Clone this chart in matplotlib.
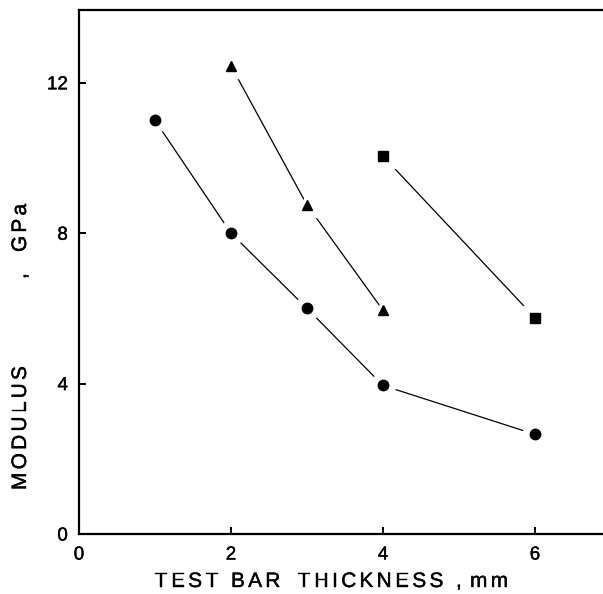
import matplotlib
matplotlib.use("Agg")
import matplotlib.pyplot as plt
import matplotlib.patheffects as pe

plt.rcParams['font.family'] = ['Liberation Sans', 'DejaVu Sans']

# Data
circ_x = [1, 2, 3, 4, 6]
circ_y = [11.0, 8.0, 6.0, 3.95, 2.65]
tri_x = [2, 3, 4]
tri_y = [12.45, 8.75, 5.95]
sq_x = [4, 6]
sq_y = [10.05, 5.75]

xticks = [0, 2, 4, 6]
yticks = [0, 4, 8, 12]

xlabel_words = ['TEST', 'BAR', 'THICKNESS', ',', 'mm']
ylabel_words = ['MODULUS', ',', 'GPa']

W, H = 603, 594
LABEL_FS = 15
TRACK = 3.2  # extra letter spacing in pixels
BOLDEN = [pe.withStroke(linewidth=0.3, foreground='black')]

fig = plt.figure(figsize=(W/100, H/100), dpi=100)
ax = fig.add_axes([79/W, 60/H, 1 - 79/W, (534-10)/H])

series = [(circ_x, circ_y, 'o', 7.5), (tri_x, tri_y, '^', 7.5), (sq_x, sq_y, 's', 6.8)]
for xs, ys, m, ms in series:
    ax.plot(xs, ys, '-', color='black', lw=0.9, zorder=1)
    ax.plot(xs, ys, ls='none', marker=m, ms=ms + 10, color='white', mec='white', zorder=2)
    ax.plot(xs, ys, ls='none', marker=m, ms=ms, color='black', mec='black', zorder=3)

ax.set_xlim(0, 524/76)
ax.set_ylim(0, 524/37.6)
ax.set_xticks(xticks)
ax.set_yticks(yticks)
ax.spines['right'].set_visible(False)
for s in ['left', 'bottom', 'top']:
    ax.spines[s].set_linewidth(1.6)
ax.tick_params(direction='in', length=5, width=1.4, labelsize=13.5)
ax.tick_params(axis='x', pad=9)
ax.tick_params(axis='y', pad=8)
for lab in ax.get_xticklabels() + ax.get_yticklabels():
    lab.set_path_effects(BOLDEN)

renderer = fig.canvas.get_renderer()


def char_width(c):
    t = fig.text(0, 0, c, fontsize=LABEL_FS)
    w = t.get_window_extent(renderer).width
    t.remove()
    return w


def place_word(word, start, base, vertical=False):
    pos = start
    for c in word:
        w = char_width(c)
        if vertical:
            fig.text(base/W, 1 - pos/H, c, fontsize=LABEL_FS, rotation=90,
                     rotation_mode='anchor', ha='left', va='baseline',
                     path_effects=BOLDEN)
            pos -= w + TRACK
        else:
            fig.text(pos/W, 1 - base/H, c, fontsize=LABEL_FS,
                     ha='left', va='baseline', path_effects=BOLDEN)
            pos += w + TRACK


# x label: word start columns (pixels), baseline row 587
for w, px in zip(xlabel_words, [155, 231, 298, 456, 470]):
    place_word(w, px, 587)

# y label: word start rows (pixels, text runs upward), baseline column 26
for w, py in zip(ylabel_words, [490, 279, 252]):
    place_word(w, py, 26, vertical=True)

fig.savefig('out.png', dpi=100)
